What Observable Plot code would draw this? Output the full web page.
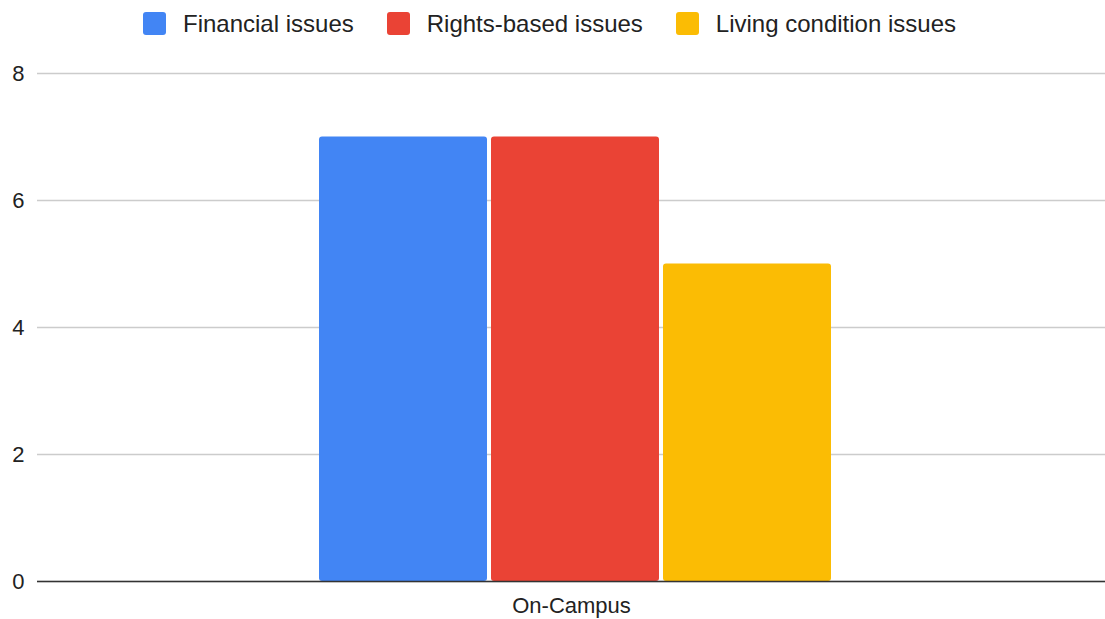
<!DOCTYPE html>
<html>
<head>
<meta charset="utf-8">
<script src="https://cdn.jsdelivr.net/npm/d3@7"></script>
<script src="https://cdn.jsdelivr.net/npm/@observablehq/plot@0.6"></script>
<style>
  html, body { margin: 0; padding: 0; background: #fff; }
  body { width: 1105px; height: 619px; overflow: hidden; font-family: "Liberation Sans", Arial, sans-serif; }
  #legend { height: 47px; display: flex; justify-content: center; align-items: center; gap: 33px; font-size: 24px; color: #222; padding-right: 6px; }
  .item { display: flex; align-items: center; gap: 17px; }
  .sw { width: 23px; height: 23px; border-radius: 3px; }
</style>
</head>
<body>
<div id="legend"></div>
<div id="chart"></div>
<script>
const categories = ["On-Campus"];
const series = ["Financial issues", "Rights-based issues", "Living condition issues"];
const values = [7, 7, 5];
const colors = ["#4285F4", "#EA4335", "#FBBC04"];
const yTicks = [0, 2, 4, 6, 8];

const data = series.map((s, i) => ({category: categories[0], series: s, value: values[i]}));

const legend = document.getElementById("legend");
series.forEach((s, i) => {
  const item = document.createElement("div");
  item.className = "item";
  const sw = document.createElement("div");
  sw.className = "sw";
  sw.style.background = colors[i];
  const t = document.createElement("span");
  t.textContent = s;
  item.appendChild(sw);
  item.appendChild(t);
  legend.appendChild(item);
});

const chart = Plot.plot({
  width: 1105,
  height: 572,
  marginTop: 26,
  marginBottom: 38,
  marginLeft: 37,
  marginRight: 0,
  style: {fontFamily: "'Liberation Sans', Arial, sans-serif", fontSize: "22px", color: "#222", background: "#fff"},
  fx: {domain: categories, padding: 0, label: null, axis: "bottom", tickSize: 0, tickPadding: 16},
  x: {domain: series, paddingInner: 0.023, paddingOuter: 1.613, align: 0.507, axis: null},
  y: {domain: [0, 8], ticks: yTicks, label: null, tickSize: 0, tickPadding: 13, tickFormat: d3.format("d")},
  color: {domain: series, range: colors},
  marks: [
    Plot.gridY(yTicks, {stroke: "#cccccc", strokeOpacity: 1, strokeWidth: 1.3}),
    Plot.barY(data, {fx: "category", x: "series", y: "value", fill: "series", rx: 3}),
    Plot.ruleY([0], {stroke: "#333", strokeWidth: 1.5})
  ]
});
document.getElementById("chart").appendChild(chart);
</script>
</body>
</html>
